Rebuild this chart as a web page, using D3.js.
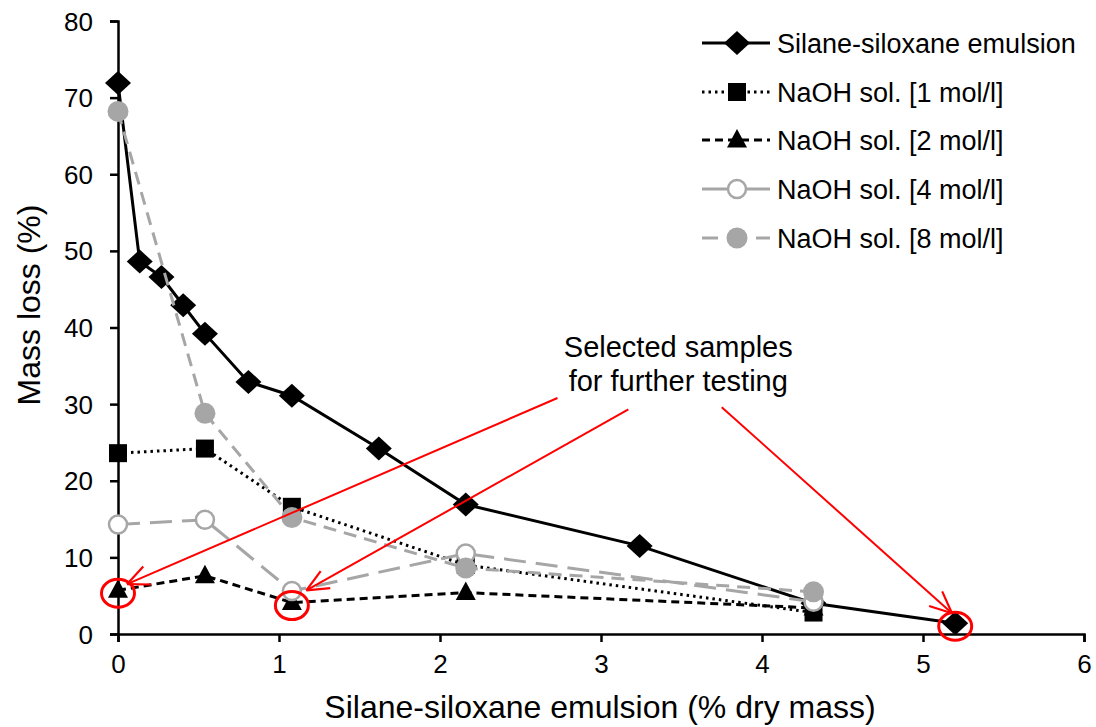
<!DOCTYPE html>
<html>
<head>
<meta charset="utf-8">
<script src="https://cdn.jsdelivr.net/npm/d3@7"></script>
<style>
  body { margin: 0; background: #fff; }
  svg { display: block; font-family: "Liberation Sans", Arial, sans-serif; }
</style>
</head>
<body>
<div id="chart"></div>
<script>
(function() {
    'use strict';

    // data
    const xSilane = [0, 0.135, 0.27, 0.405, 0.54, 0.81, 1.08, 1.62, 2.16, 3.24, 4.32, 5.2];
    const ySilane = [71.9, 48.6, 46.6, 42.9, 39.2, 32.9, 31.1, 24.2, 16.9, 11.5, 4.0, 1.4];
    const xNaOH = [0, 0.54, 1.08, 2.16, 4.32];
    const yNaOH1 = [23.6, 24.2, 16.6, 9.0, 2.8];
    const yNaOH2 = [5.7, 7.6, 4.1, 5.4, 3.4];
    const yNaOH4 = [14.3, 14.9, 5.6, 10.5, 4.2];
    const yNaOH8 = [68.2, 28.8, 15.2, 8.6, 5.5];

    const seriesNames = ["Silane-siloxane emulsion", "NaOH sol. [1 mol/l]", "NaOH sol. [2 mol/l]",
                         "NaOH sol. [4 mol/l]", "NaOH sol. [8 mol/l]"];
    const xTicks = [0, 1, 2, 3, 4, 5, 6];
    const yTicks = [0, 10, 20, 30, 40, 50, 60, 70, 80];
    const xTitle = "Silane-siloxane emulsion (% dry mass)";
    const yTitle = "Mass loss (%)";

    // selected samples: circled points (data units) and arrow starts
    const selected = [[0, 5.7], [1.08, 4.1], [5.2, 1.4]];
    const arrowFrom = [[2.73, 30.8], [3.17, 29.3], [3.75, 29.6]];
    const arrowTo = [[0.056, 6.5], [1.17, 5.7], [5.18, 2.7]];
    const noteLines = ["Selected samples", "for further testing"];
    const notePos = [3.48, 36.2];

    const width = 1096, height = 727;
    const gray = "#a6a6a6";

    const svg = d3.select("#chart").append("svg")
        .attr("width", width)
        .attr("height", height);

    const x = d3.scaleLinear().domain([0, 6]).range([118, 1084]);
    const y = d3.scaleLinear().domain([0, 80]).range([634, 21]);

    //axes
    const xAxis = svg.append("g")
        .attr("transform", `translate(0,${y(0)})`)
        .call(d3.axisBottom(x).tickValues(xTicks).tickSize(8).tickPadding(13).tickFormat(d3.format("d")));
    const yAxis = svg.append("g")
        .attr("transform", `translate(${x(0)},0)`)
        .call(d3.axisLeft(y).tickValues(yTicks).tickSize(8).tickPadding(17).tickFormat(d3.format("d")));

    [xAxis, yAxis].forEach(a => {
        a.select(".domain").attr("stroke", "#000").attr("stroke-width", 2.5);
        a.selectAll(".tick line").attr("stroke", "#000").attr("stroke-width", 2.5);
        a.selectAll(".tick text").attr("fill", "#000").style("font-size", "26px")
            .style("font-family", "'Liberation Sans', Arial, sans-serif");
    });
    xAxis.selectAll(".tick text").attr("dy", "0.71em");
    yAxis.selectAll(".tick text").attr("dy", "0.35em");

    svg.append("text")
        .attr("x", 600).attr("y", 718)
        .attr("text-anchor", "middle")
        .style("font-size", "32px")
        .text(xTitle);

    svg.append("text")
        .attr("transform", "translate(40,305) rotate(-90)")
        .attr("text-anchor", "middle")
        .style("font-size", "32px")
        .text(yTitle);

    // marker shapes
    const shapes = {
        diamond: "M0,-12L13,0L0,12L-13,0Z",
        square: "M-9,-9H9V9H-9Z",
        triangle: "M0,-11L10,7.5L-10,7.5Z"
    };

    const series = [
        { name: seriesNames[0], xs: xSilane, ys: ySilane, color: "#000", dash: null, width: 3, marker: "diamond" },
        { name: seriesNames[1], xs: xNaOH, ys: yNaOH1, color: "#000", dash: "2.5,4", width: 3, marker: "square" },
        { name: seriesNames[2], xs: xNaOH, ys: yNaOH2, color: "#000", dash: "8,5", width: 3, marker: "triangle" },
        { name: seriesNames[3], xs: xNaOH, ys: yNaOH4, color: gray, dash: "22,10", width: 3, marker: "open" },
        { name: seriesNames[4], xs: xNaOH, ys: yNaOH8, color: gray, dash: "13,8", width: 3, marker: "dot" }
    ];

    const line = d3.line().x(d => x(d[0])).y(d => y(d[1]));

    function drawMarker(g, kind, cx, cy) {
        if (kind === "open") {
            g.append("circle").attr("cx", cx).attr("cy", cy).attr("r", 9)
                .attr("fill", "#fff").attr("stroke", gray).attr("stroke-width", 2.5);
        } else if (kind === "dot") {
            g.append("circle").attr("cx", cx).attr("cy", cy).attr("r", 10.5).attr("fill", gray);
        } else {
            g.append("path").attr("d", shapes[kind])
                .attr("transform", `translate(${cx},${cy})`).attr("fill", "#000");
        }
    }

    series.forEach(s => {
        const pts = s.xs.map((v, i) => [v, s.ys[i]]);
        const g = svg.append("g");
        g.append("path")
            .attr("d", line(pts))
            .attr("fill", "none")
            .attr("stroke", s.color)
            .attr("stroke-width", s.width)
            .attr("stroke-dasharray", s.dash);
        pts.forEach(p => drawMarker(g, s.marker, x(p[0]), y(p[1])));
    });

    //legend
    const legend = svg.append("g");
    const rowY = [43, 92, 140, 189, 238];
    series.forEach((s, i) => {
        const ly = rowY[i];
        if (s.marker === "open") {
            legend.append("line").attr("x1", 702).attr("x2", 770).attr("y1", ly).attr("y2", ly)
                .attr("stroke", s.color).attr("stroke-width", s.width);
        } else if (s.marker === "dot") {
            [[702, 718], [756, 770]].forEach(seg => {
                legend.append("line").attr("x1", seg[0]).attr("x2", seg[1]).attr("y1", ly).attr("y2", ly)
                    .attr("stroke", s.color).attr("stroke-width", s.width);
            });
        } else {
            legend.append("line").attr("x1", 702).attr("x2", 770).attr("y1", ly).attr("y2", ly)
                .attr("stroke", s.color).attr("stroke-width", s.width)
                .attr("stroke-dasharray", s.dash);
        }
        drawMarker(legend, s.marker, 737, ly);
        legend.append("text")
            .attr("x", 777).attr("y", ly + 9.5)
            .style("font-size", "27px")
            .text(s.name);
    });

    // annotation
    const note = svg.append("g");
    noteLines.forEach((t, i) => {
        note.append("text")
            .attr("x", x(notePos[0])).attr("y", y(notePos[1]) + i * 34)
            .attr("text-anchor", "middle")
            .style("font-size", "29px")
            .text(t);
    });

    const red = "#ff0000";
    arrowFrom.forEach((a, i) => {
        const x1 = x(a[0]), y1 = y(a[1]);
        const x2 = x(arrowTo[i][0]), y2 = y(arrowTo[i][1]);
        note.append("line").attr("x1", x1).attr("y1", y1).attr("x2", x2).attr("y2", y2)
            .attr("stroke", red).attr("stroke-width", 2);
        const ang = Math.atan2(y1 - y2, x1 - x2);
        const len = 24, spread = 0.42;
        [ang - spread, ang + spread].forEach(t => {
            note.append("line")
                .attr("x1", x2).attr("y1", y2)
                .attr("x2", x2 + len * Math.cos(t)).attr("y2", y2 + len * Math.sin(t))
                .attr("stroke", red).attr("stroke-width", 2.2);
        });
    });

    selected.forEach(p => {
        note.append("ellipse")
            .attr("cx", x(p[0])).attr("cy", y(p[1]) + 3)
            .attr("rx", 16.5).attr("ry", 14)
            .attr("fill", "none").attr("stroke", red).attr("stroke-width", 3);
    });

})();
</script>
</body>
</html>
